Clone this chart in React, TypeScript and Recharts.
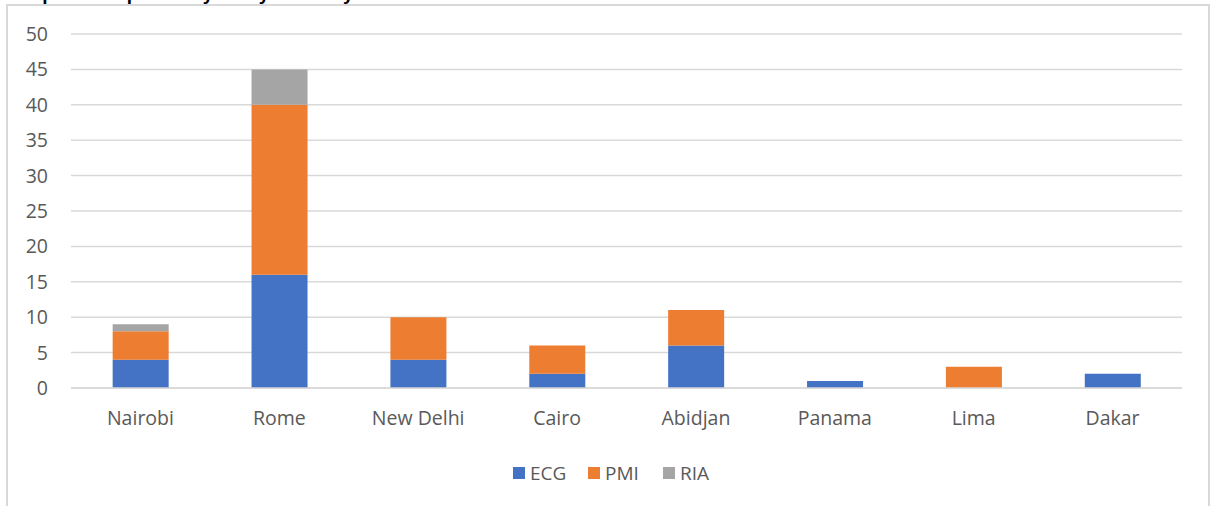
import React from "react";
import { BarChart, Bar, XAxis, YAxis, CartesianGrid } from "recharts";

const categories = ["Nairobi", "Rome", "New Delhi", "Cairo", "Abidjan", "Panama", "Lima", "Dakar"];
const ecg = [4, 16, 4, 2, 6, 1, 0, 2];
const pmi = [4, 24, 6, 4, 5, 0, 3, 0];
const ria = [1, 5, 0, 0, 0, 0, 0, 0];
const yTicks = [0, 5, 10, 15, 20, 25, 30, 35, 40, 45, 50];

const data = categories.map((c, i) => ({ name: c, ECG: ecg[i], PMI: pmi[i], RIA: ria[i] }));

const FONT = "'Open Sans', 'Noto Sans', sans-serif";
const TXT = "#595959";

const legendItems = [
  { label: "ECG", color: "#4472C4" },
  { label: "PMI", color: "#ED7D31" },
  { label: "RIA", color: "#A5A5A5" },
];

export default function App() {
  return (
    <div style={{ position: "absolute", left: 0, top: 0, width: 1211, height: 506, overflow: "hidden", background: "#fff" }}>
      <div style={{ position: "absolute", left: 0, top: -17, fontFamily: "'Liberation Sans', Arial, sans-serif", fontWeight: "bold", fontSize: 19, color: "#000", whiteSpace: "nowrap" }}>
        Complaints reported by entity and duty station
      </div>
      <div style={{ position: "absolute", left: 6, top: 4, width: 1204, height: 520, border: "2px solid #D9D9D9", boxSizing: "border-box" }} />
      <div style={{ position: "absolute", left: 0, top: 0 }}>
        <BarChart width={1211} height={506} data={data} margin={{ top: 34, right: 29, bottom: 88, left: 0 }} barCategoryGap="30%">
          <CartesianGrid vertical={false} stroke="#D9D9D9" strokeWidth={1.5} />
          <XAxis
            dataKey="name"
            height={30}
            axisLine={{ stroke: "#D9D9D9", strokeWidth: 1.5 }}
            tickLine={false}
            tickMargin={17}
            tick={{ fill: TXT, fontSize: 19.5, fontFamily: FONT }}
            interval={0}
          />
          <YAxis
            width={71}
            domain={[0, 50]}
            ticks={yTicks}
            axisLine={false}
            tickLine={false}
            tickMargin={17}
            tick={{ fill: TXT, fontSize: 19.5, fontFamily: FONT }}
          />
          <Bar dataKey="ECG" stackId="a" fill="#4472C4" isAnimationActive={false} />
          <Bar dataKey="PMI" stackId="a" fill="#ED7D31" isAnimationActive={false} />
          <Bar dataKey="RIA" stackId="a" fill="#A5A5A5" isAnimationActive={false} />
        </BarChart>
      </div>
      <div style={{ position: "absolute", left: 513, top: 460, display: "flex", fontFamily: FONT, fontSize: 19, color: TXT, lineHeight: "26px" }}>
        {legendItems.map((it) => (
          <div key={it.label} style={{ display: "flex", alignItems: "center", width: 75 }}>
            <span style={{ display: "inline-block", width: 12, height: 12, background: it.color, marginRight: 5 }} />
            <span>{it.label}</span>
          </div>
        ))}
      </div>
    </div>
  );
}
